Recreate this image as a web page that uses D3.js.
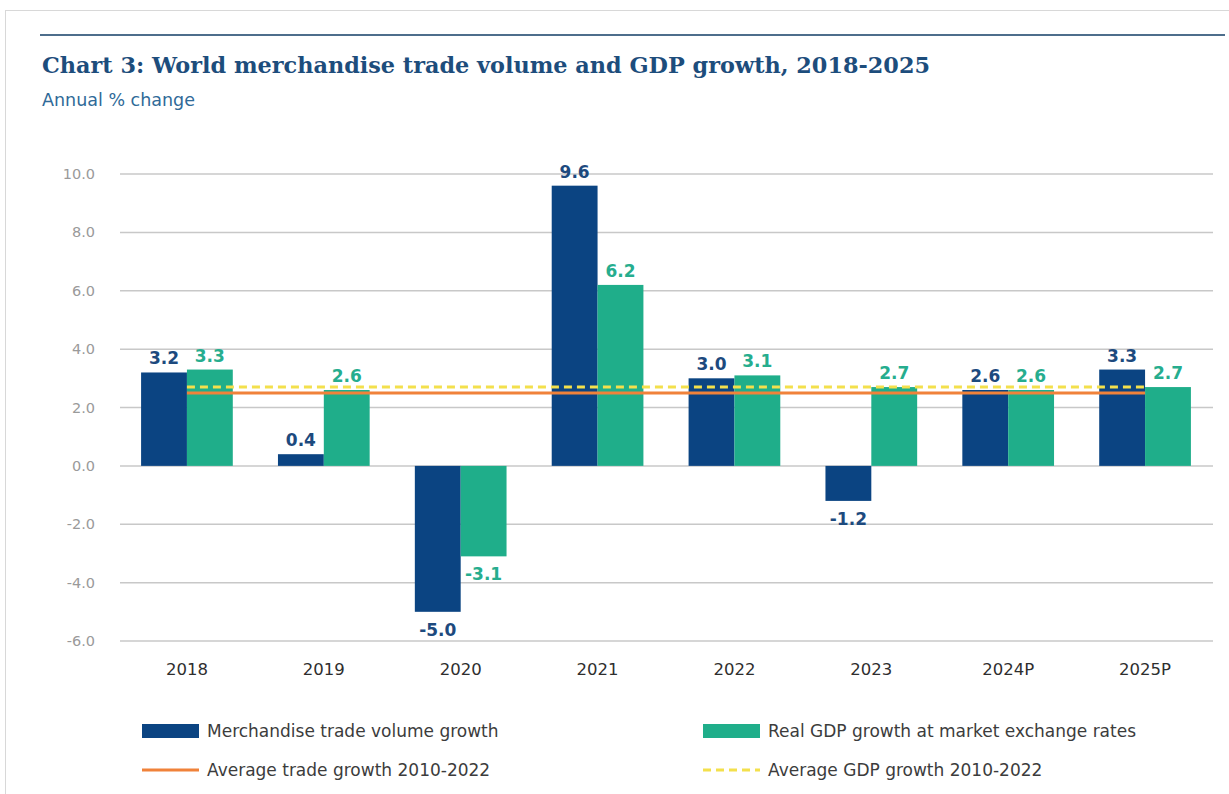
<!DOCTYPE html>
<html>
<head>
<meta charset="utf-8">
<script src="https://cdn.jsdelivr.net/npm/d3@7"></script>
<style>
  html, body { margin: 0; padding: 0; background: #fff; }
  svg { display: block; }
  .tick-label { font-family: "DejaVu Sans", sans-serif; font-size: 14.5px; fill: #9a9a9a; }
  .cat-label { font-family: "DejaVu Sans", sans-serif; font-size: 16.5px; fill: #2e2e2e; }
  .legend-label { font-family: "DejaVu Sans", sans-serif; font-size: 17px; fill: #3c3c3c; }
  .value-label { font-family: "DejaVu Sans", sans-serif; font-size: 17px; font-weight: bold; }
</style>
</head>
<body>
<div id="chart"></div>
<script>
// Chart 3: world merchandise trade volume vs GDP growth

const categories = ['2018', '2019', '2020', '2021', '2022', '2023', '2024P', '2025P'];
const tradeGrowth = [3.2, 0.4, -5.0, 9.6, 3.0, -1.2, 2.6, 3.3];
const gdpGrowth = [3.3, 2.6, -3.1, 6.2, 3.1, 2.7, 2.6, 2.7];
const avgTrade = 2.5;
const avgGdp = 2.7;
const yTicks = [-6, -4, -2, 0, 2, 4, 6, 8, 10];

const seriesNames = ['Merchandise trade volume growth', 'Real GDP growth at market exchange rates'];
const lineNames = ['Average trade growth 2010-2022', 'Average GDP growth 2010-2022'];

const NAVY = '#0b4482';
const GREEN = '#1fae8a';
const ORANGE = '#f0823a';
const YELLOW = '#f3e04c';

const W = 1229, H = 794;

// plain hyphen for negatives, as in the source chart
const fmt = v => d3.format('.1f')(v).replace('\u2212', '-');

const svg = d3.select('#chart').append('svg')
    .attr('width', W)
    .attr('height', H);

// outer frame of the page crop
svg.append('rect')
    .attr('x', 5.5).attr('y', 10.5)
    .attr('width', W - 5).attr('height', H - 10)
    .attr('fill', 'none')
    .attr('stroke', '#d8d8d8');

// rule above the title
svg.append('line')
    .attr('x1', 40).attr('x2', 1225)
    .attr('y1', 35).attr('y2', 35)
    .attr('stroke', '#4d6e8c')
    .attr('stroke-width', 2);

svg.append('text')
    .attr('x', 42).attr('y', 73)
    .attr('textLength', 888)
    .attr('lengthAdjust', 'spacingAndGlyphs')
    .style('font-family', '"DejaVu Serif", serif')
    .style('font-weight', 'bold')
    .style('font-size', '23px')
    .style('fill', '#1d4d7c')
    .text('Chart 3: World merchandise trade volume and GDP growth, 2018-2025');

svg.append('text')
    .attr('x', 42).attr('y', 106)
    .style('font-family', '"DejaVu Sans", sans-serif')
    .style('font-size', '17.5px')
    .style('fill', '#2f6a98')
    .text('Annual % change');

const x = d3.scaleBand()
    .domain(categories)
    .range([118.5, 1213.5])
    .paddingInner(0.33)
    .paddingOuter(0.165);

const xs = d3.scaleBand()
    .domain([0, 1])
    .range([0, x.bandwidth()]);

const y = d3.scaleLinear()
    .domain([-6, 10])
    .range([641, 174]);

// gridlines
const grid = svg.append('g');
grid.selectAll('line')
    .data(yTicks)
    .join('line')
    .attr('x1', 120).attr('x2', 1213)
    .attr('y1', d => y(d)).attr('y2', d => y(d))
    .attr('stroke', '#c8c8c8')
    .attr('stroke-width', 1.5);

grid.selectAll('text')
    .data(yTicks)
    .join('text')
    .attr('class', 'tick-label')
    .attr('x', 95)
    .attr('y', d => y(d))
    .attr('dy', '0.35em')
    .attr('text-anchor', 'end')
    .text(fmt);

const rows = categories.map((c, i) => ({ cat: c, vals: [tradeGrowth[i], gdpGrowth[i]] }));

const group = svg.append('g').selectAll('g')
    .data(rows)
    .join('g')
    .attr('transform', d => 'translate(' + x(d.cat) + ',0)');

const colors = [NAVY, GREEN];

group.selectAll('rect')
    .data(d => d.vals.map((v, k) => ({ v: v, k: k })))
    .join('rect')
    .attr('x', d => xs(d.k))
    .attr('width', xs.bandwidth())
    .attr('y', d => y(Math.max(0, d.v)))
    .attr('height', d => Math.abs(y(d.v) - y(0)))
    .attr('fill', d => colors[d.k]);

// average lines, from first group centre to last group centre
const lineX1 = x(categories[0]) + x.bandwidth() / 2;
const lineX2 = x(categories[categories.length - 1]) + x.bandwidth() / 2;

svg.append('line')
    .attr('x1', lineX1).attr('x2', lineX2)
    .attr('y1', y(avgTrade)).attr('y2', y(avgTrade))
    .attr('stroke', ORANGE)
    .attr('stroke-width', 3);

svg.append('line')
    .attr('x1', lineX1).attr('x2', lineX2)
    .attr('y1', y(avgGdp)).attr('y2', y(avgGdp))
    .attr('stroke', YELLOW)
    .attr('stroke-width', 3)
    .attr('stroke-dasharray', '8,5');

// value labels
group.selectAll('text.value-label')
    .data(d => d.vals.map((v, k) => ({ v: v, k: k })))
    .join('text')
    .attr('class', 'value-label')
    .attr('x', d => xs(d.k) + xs.bandwidth() / 2)
    .attr('y', d => d.v >= 0 ? y(d.v) - 8 : y(d.v) + 24)
    .attr('text-anchor', 'middle')
    .style('fill', d => d.k === 0 ? '#1d4a7e' : '#26ad8e')
    .text(d => fmt(d.v));

// category labels
svg.append('g').selectAll('text')
    .data(categories)
    .join('text')
    .attr('class', 'cat-label')
    .attr('x', d => x(d) + x.bandwidth() / 2)
    .attr('y', 675)
    .attr('text-anchor', 'middle')
    .text(d => d);

// legend
const legendX = [142, 703];
const legend = svg.append('g');

legend.selectAll('rect')
    .data(seriesNames)
    .join('rect')
    .attr('x', (d, i) => legendX[i])
    .attr('y', 724)
    .attr('width', 57)
    .attr('height', 14)
    .attr('fill', (d, i) => colors[i]);

legend.selectAll('text.series')
    .data(seriesNames)
    .join('text')
    .attr('class', 'legend-label series')
    .attr('x', (d, i) => legendX[i] + 65)
    .attr('y', 731)
    .attr('dy', '0.35em')
    .text(d => d);

legend.append('line')
    .attr('x1', legendX[0]).attr('x2', legendX[0] + 57)
    .attr('y1', 770).attr('y2', 770)
    .attr('stroke', ORANGE)
    .attr('stroke-width', 3);

legend.append('line')
    .attr('x1', legendX[1]).attr('x2', legendX[1] + 57)
    .attr('y1', 770).attr('y2', 770)
    .attr('stroke', YELLOW)
    .attr('stroke-width', 3)
    .attr('stroke-dasharray', '8,5');

legend.selectAll('text.lines')
    .data(lineNames)
    .join('text')
    .attr('class', 'legend-label lines')
    .attr('x', (d, i) => legendX[i] + 65)
    .attr('y', 770)
    .attr('dy', '0.35em')
    .text(d => d);
</script>
</body>
</html>
